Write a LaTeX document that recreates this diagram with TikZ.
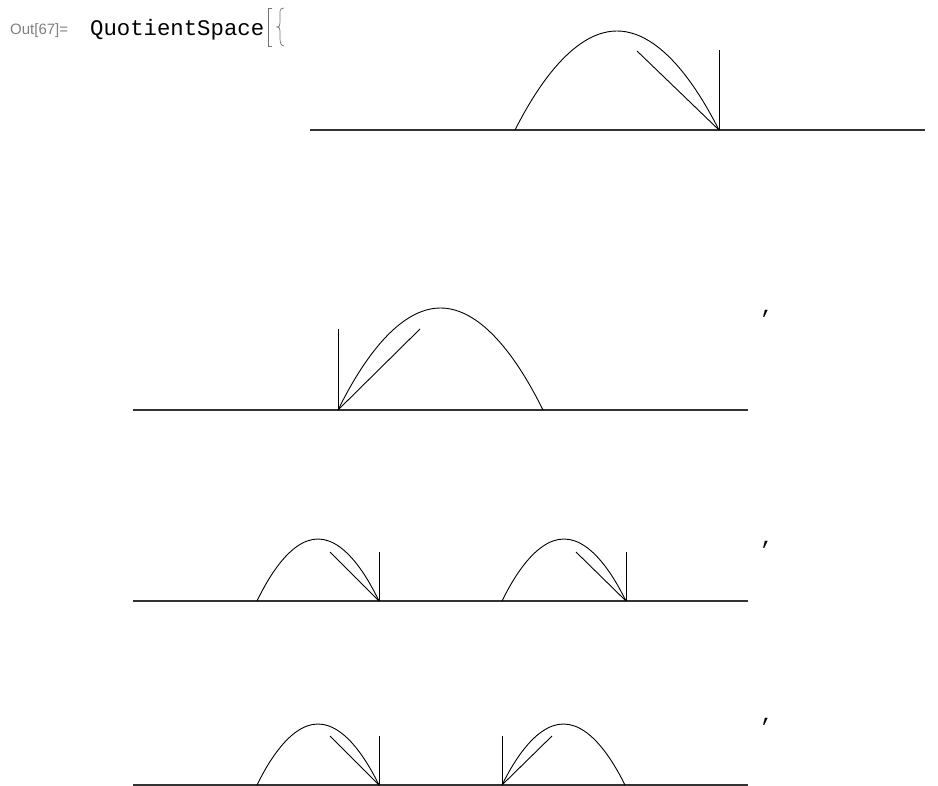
\documentclass[tikz,border=0pt]{standalone}
\usepackage{fontspec}
\setmainfont{Liberation Sans}
\newfontfamily\monofnt{Liberation Mono}
\begin{document}
\begin{tikzpicture}[x=1pt,y=-1pt,
  curve/.style={line width=0.9pt, black},
  axisline/.style={line width=1.2pt, black!80},
  brack/.style={line width=0.7pt, black!55},
  outlbl/.style={inner sep=0pt, anchor=base west, font=\fontsize{15}{15}\selectfont, text=black!50},
  codelbl/.style={inner sep=0pt, anchor=base west, font=\fontsize{22.3}{22}\selectfont\monofnt},
  commalbl/.style={inner sep=0pt, anchor=center, font=\fontsize{22}{22}\selectfont\monofnt}]
\useasboundingbox (0,0) rectangle (938,786);
% header
\node[outlbl] (out) at (10,35) {Out[67]=};
\node[codelbl] (qs) at (90,36) {QuotientSpace};
\draw[brack] (272,8) -- (268,8) -- (268,46) -- (272,46);
\draw[brack] (284,8) .. controls (279,8) and (280,12) .. (280,18) -- (280,23) .. controls (280,26) and (279,27) .. (277,27)
  .. controls (279,27) and (280,28) .. (280,31) -- (280,38) .. controls (280,43) and (281,46) .. (284,46);
% panel 1
\draw[axisline] (310,130) -- (925,130);
\draw[curve] (515,130) parabola bend (617,31) (719,130);
\draw[curve] (719,130) -- (719,50);
\draw[curve] (719,130) -- (637,51);
% panel 2
\draw[axisline] (133,410) -- (748,410);
\draw[curve] (338,410) parabola bend (440.5,308) (543,410);
\draw[curve] (338,410) -- (338,329);
\draw[curve] (338,410) -- (420,329);
\node[commalbl] (c1) at (767,314) {,};
% panel 3
\draw[axisline] (133,601) -- (748,601);
\draw[curve] (257,601) parabola bend (318,539) (379,601);
\draw[curve] (379,601) -- (379,552);
\draw[curve] (379,601) -- (330,552);
\draw[curve] (502,601) parabola bend (564,539) (626,601);
\draw[curve] (626,601) -- (626,552);
\draw[curve] (626,601) -- (576,552);
\node[commalbl] (c2) at (767,545) {,};
% panel 4
\draw[axisline] (133,785) -- (748,785);
\draw[curve] (257,785) parabola bend (318,724) (379,785);
\draw[curve] (379,785) -- (379,736);
\draw[curve] (379,785) -- (330,736);
\draw[curve] (502,785) parabola bend (563.5,724) (625,785);
\draw[curve] (502,785) -- (502,736);
\draw[curve] (502,785) -- (552,736);
\node[commalbl] (c3) at (767,722) {,};
\end{tikzpicture}
\end{document}
